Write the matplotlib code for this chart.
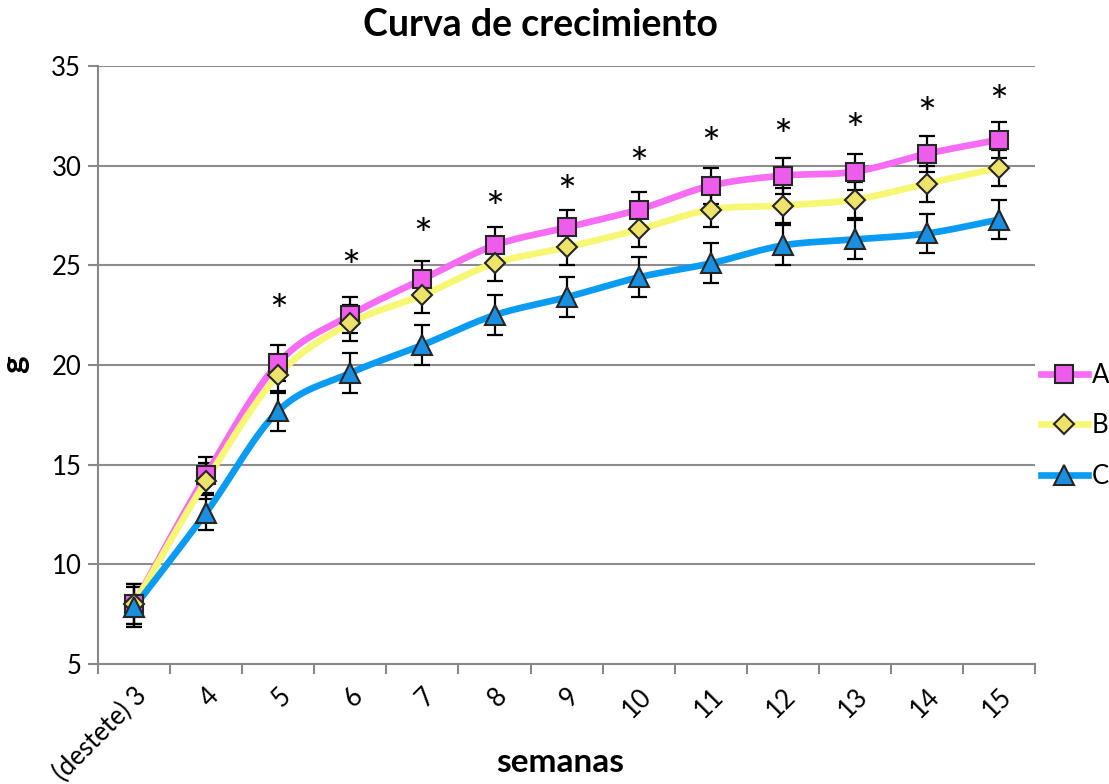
import numpy as np
import matplotlib.pyplot as plt
from matplotlib.lines import Line2D

plt.rcParams['font.family'] = ['Lato', 'DejaVu Sans']

semanas = ['(destete) 3', '4', '5', '6', '7', '8', '9', '10', '11', '12', '13', '14', '15']

grupo_a = [8.0, 14.5, 20.1, 22.5, 24.3, 26.0, 26.9, 27.8, 29.0, 29.5, 29.7, 30.6, 31.3]
grupo_b = [8.0, 14.2, 19.5, 22.1, 23.5, 25.1, 25.9, 26.8, 27.8, 28.0, 28.3, 29.1, 29.9]
grupo_c = [7.85, 12.6, 17.7, 19.6, 21.0, 22.5, 23.4, 24.4, 25.1, 26.0, 26.3, 26.6, 27.3]

err_a = [1.0, 0.9, 0.9, 0.9, 0.9, 0.9, 0.9, 0.9, 0.9, 0.9, 0.9, 0.9, 0.9]
err_b = [1.0, 0.9, 0.9, 0.9, 0.9, 0.9, 0.9, 0.9, 0.9, 0.9, 0.9, 0.9, 0.9]
err_c = [1.0, 0.9, 1.0, 1.0, 1.0, 1.0, 1.0, 1.0, 1.0, 1.0, 1.0, 1.0, 1.0]

# semanas con diferencia significativa y altura del asterisco
sig_idx = [2, 3, 4, 5, 6, 7, 8, 9, 10, 11, 12]
sig_y = [23.2, 25.4, 27.0, 28.4, 29.2, 30.6, 31.6, 32.0, 32.3, 33.1, 33.7]


def suavizar(x, y, n=30):
    # curva suavizada tipo Excel (Catmull-Rom con tramos Bezier)
    x = np.asarray(x, float)
    y = np.asarray(y, float)
    px = np.concatenate([[x[0]], x, [x[-1]]])
    py = np.concatenate([[y[0]], y, [y[-1]]])
    xs, ys = [], []
    t = np.linspace(0, 1, n)
    for i in range(1, len(px) - 2):
        p0 = np.array([px[i], py[i]])
        p3 = np.array([px[i + 1], py[i + 1]])
        p1 = p0 + (np.array([px[i + 1], py[i + 1]]) - np.array([px[i - 1], py[i - 1]])) / 6
        p2 = p3 - (np.array([px[i + 2], py[i + 2]]) - np.array([px[i], py[i]])) / 6
        b = ((1 - t) ** 3)[:, None] * p0 + (3 * (1 - t) ** 2 * t)[:, None] * p1 \
            + (3 * (1 - t) * t ** 2)[:, None] * p2 + (t ** 3)[:, None] * p3
        xs.extend(b[:, 0])
        ys.extend(b[:, 1])
    return xs, ys


fig = plt.figure(figsize=(11.09, 7.84), dpi=100)
ax = fig.add_axes([0.0884, 0.153, 0.845, 0.7628])

x = np.arange(len(semanas))

series = [
    ('A', grupo_a, err_a, '#F76BF5', 's', '#EE5CEC', 13),
    ('B', grupo_b, err_b, '#F7F774', 'D', '#EEE36A', 10),
    ('C', grupo_c, err_c, '#0A9CF2', '^', '#1A8FE0', 15),
]

handles = []
for nombre, vals, err, col, mk, face, ms in series:
    ax.errorbar(x, vals, yerr=err, fmt='none', ecolor='black', elinewidth=1.6,
                capsize=6, capthick=1.6, zorder=3)
    sx, sy = suavizar(x, vals)
    ax.plot(sx, sy, color=col, lw=4.8, solid_capstyle='round', zorder=4)
    ax.plot(x, vals, ls='none', marker=mk, ms=ms, mfc=face, mec='#262626',
            mew=1.5, zorder=5)
    handles.append(Line2D([], [], color=col, lw=4.8, marker=mk, ms=ms,
                          mfc=face, mec='#262626', mew=1.5, label=nombre))

for i, yv in zip(sig_idx, sig_y):
    ax.annotate('*', (x[i], yv), xytext=(0, -9), textcoords='offset points',
                ha='center', va='center', fontsize=32, color='black')

ax.set_xlim(-0.5, len(semanas) - 0.5)
ax.set_ylim(5, 35)
ax.set_yticks(range(5, 40, 5))
ax.set_xticks(np.arange(-0.5, len(semanas), 1.0))
ax.set_xticklabels([])
ax.set_xticks(x, minor=True)
ax.set_xticklabels(semanas, minor=True, rotation=45, ha='right', va='top',
                   rotation_mode='anchor', fontsize=18.5)
ax.tick_params(axis='x', which='minor', length=0, pad=14)
ax.tick_params(axis='x', which='major', length=7, width=1.5, color='#888888')
ax.tick_params(axis='y', length=7, width=1.5, color='#888888', labelsize=18.5, pad=5)

ax.grid(axis='y', color='#8C8C8C', lw=1.5)
ax.set_axisbelow(True)
for s in ['top', 'right']:
    ax.spines[s].set_visible(False)
for s in ['left', 'bottom']:
    ax.spines[s].set_color('#888888')
    ax.spines[s].set_linewidth(1.5)

fig.text(0.487, 0.968, 'Curva de crecimiento', ha='center', va='center',
         fontsize=27, fontweight='bold')
fig.text(0.505, 0.028, 'semanas', ha='center', va='center',
         fontsize=24, fontweight='bold')
fig.text(0.013, 0.535, 'g', ha='center', va='center', rotation=90,
         fontsize=24, fontweight='bold')

fig.legend(handles=handles, loc='center left', bbox_to_anchor=(0.939, 0.457),
           frameon=False, fontsize=18.5, handlelength=1.8, handletextpad=0.15,
           labelspacing=1.0, borderaxespad=0, borderpad=0)

fig.savefig('out.png', dpi=100)
